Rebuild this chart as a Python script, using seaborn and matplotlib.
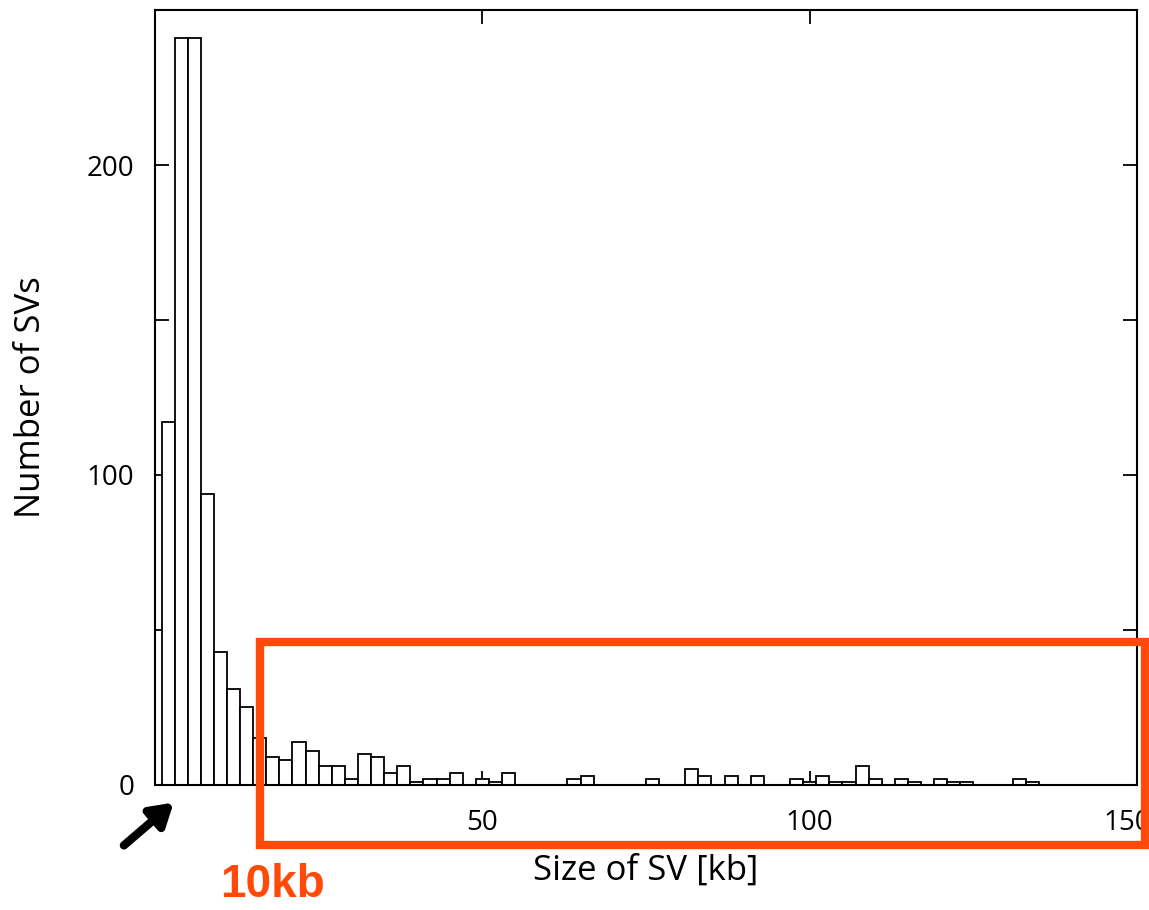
import numpy as np
import pandas as pd
import matplotlib
matplotlib.use("Agg")
import matplotlib.pyplot as plt
import matplotlib.transforms as mtransforms
from matplotlib.patches import Rectangle
import seaborn as sns

# bin centres (kb) and number of SVs per 2 kb bin
sv_size_kb = [2, 4, 6, 8, 10, 12, 14, 16, 18, 20, 22, 24, 26, 28, 30, 32, 34, 36,
              38, 40, 42, 44, 46, 50, 52, 54, 64, 66, 76, 82, 84, 88, 92, 98,
              100, 102, 104, 106, 108, 110, 114, 116, 120, 122, 124, 132, 134]
sv_count = [117, 241, 241, 94, 43, 31, 25, 15, 9, 8, 14, 11, 6, 6, 2, 10, 9, 4,
            6, 1, 2, 2, 4, 2, 1, 4, 2, 3, 2, 5, 3, 3, 3, 2,
            1, 3, 1, 1, 6, 2, 2, 1, 2, 1, 1, 2, 1]
y_ticks = [0, 50, 100, 150, 200]
y_tick_labels = ["0", "", "100", "", "200"]
x_ticks = [50, 100, 150]
x_tick_labels = ["50", "100", "150"]

df = pd.DataFrame({"size": sv_size_kb, "count": sv_count})

sns.set_style("ticks")
plt.rcParams["font.family"] = ["Open Sans", "DejaVu Sans"]
plt.rcParams["text.color"] = "black"

fig = plt.figure(figsize=(11.49, 9.10), dpi=100)
ax = fig.add_axes([0.1349, 0.1374, 0.8547, 0.8516])

sns.histplot(data=df, x="size", weights="count", binwidth=2, binrange=(1, 135),
             color="white", edgecolor="black", linewidth=1.3, alpha=1, ax=ax)

ax.set_xlim(0, 150)
ax.set_ylim(0, 250)
ax.set_xticks(x_ticks)
ax.set_xticklabels(x_tick_labels)
ax.set_yticks(y_ticks)
ax.set_yticklabels(y_tick_labels)
ax.tick_params(direction="in", length=10, width=1.3, top=True, right=True,
               labelsize=20, colors="black")
ax.tick_params(axis="x", pad=17)
ax.tick_params(axis="y", pad=15)
for s in ax.spines.values():
    s.set_visible(True)
    s.set_linewidth(1.5)
    s.set_color("black")

# last x label sits a little left, partly under the orange box
last = ax.get_xticklabels()[-1]
last.set_transform(last.get_transform() + mtransforms.ScaledTranslation(-0.1, 0, fig.dpi_scale_trans))

ax.set_xlabel("Size of SV [kb]", fontsize=25, labelpad=12, color="black")
ax.set_ylabel("Number of SVs", fontsize=25, labelpad=28, color="black")

# orange highlight box and annotation
orange = "#FF4A0A"
fig.patches.append(Rectangle((0.2263, 0.0714), 0.7702, 0.2231, transform=fig.transFigure,
                             fill=False, edgecolor=orange, linewidth=6, zorder=10))
fig.text(0.2375, 0.027, "10kb", color=orange, fontsize=33, fontweight="bold",
         family=["Liberation Sans", "DejaVu Sans"], ha="center", va="center")
ax.annotate("", xy=(0.153, 0.12), xytext=(0.106, 0.069), xycoords="figure fraction",
            textcoords="figure fraction",
            arrowprops=dict(arrowstyle="-|>,head_length=1.3,head_width=0.8",
                            color="black", lw=6))

fig.savefig("out.png", dpi=100)
